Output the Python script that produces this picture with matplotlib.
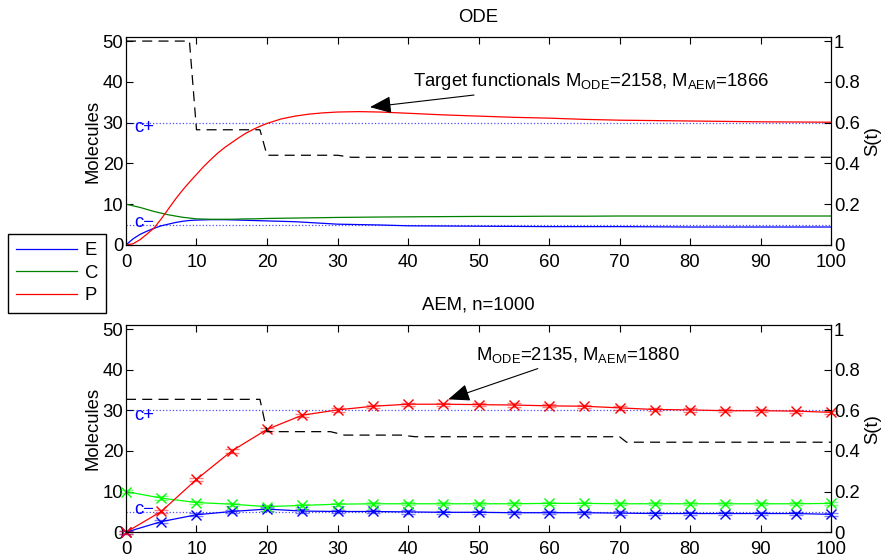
import matplotlib
matplotlib.use("Agg")
import matplotlib.pyplot as plt

plt.rcParams['font.family'] = ['Liberation Sans', 'DejaVu Sans']
plt.rcParams['font.size'] = 13.3
plt.rcParams['mathtext.fontset'] = 'custom'
plt.rcParams['mathtext.rm'] = 'Liberation Sans'

# ODE solution (top panel)
t_ode = [0, 1, 2, 3, 4, 5, 6, 7, 8, 9, 10, 11, 12, 13, 14, 15, 16, 17, 18, 19, 20,
         22, 24, 26, 28, 30, 33, 36, 40, 45, 50, 55, 60, 65, 70, 75, 80, 90, 100]
e_ode = [0, 1.5, 2.6, 3.4, 4.1, 4.7, 5.1, 5.5, 5.8, 6.0, 6.1, 6.15, 6.2, 6.2, 6.2, 6.15, 6.1, 6.05, 6.0, 5.95, 5.9,
         5.8, 5.7, 5.5, 5.3, 5.1, 5.0, 4.9, 4.7, 4.65, 4.6, 4.55, 4.5, 4.5, 4.5, 4.45, 4.4, 4.4, 4.4]
c_ode = [10, 9.6, 9.2, 8.7, 8.2, 7.8, 7.4, 7.1, 6.8, 6.6, 6.4, 6.35, 6.3, 6.3, 6.3, 6.3, 6.35, 6.4, 6.4, 6.45, 6.5,
         6.55, 6.6, 6.65, 6.7, 6.75, 6.8, 6.85, 6.9, 6.95, 7.0, 7.0, 7.05, 7.05, 7.1, 7.1, 7.1, 7.1, 7.1]
p_ode = [0, 0.3, 1.3, 2.7, 4.2, 6.4, 8.8, 11.2, 13.4, 15.4, 17.3, 19.2, 20.9, 22.5, 23.9, 25.1, 26.3, 27.4, 28.3, 29.1, 29.8,
         30.9, 31.6, 32.1, 32.4, 32.6, 32.7, 32.6, 32.3, 31.9, 31.6, 31.3, 31.1, 30.8, 30.6, 30.5, 30.4, 30.2, 30.1]
s_ode_t = [0, 9, 10, 19, 20, 30, 32, 100]
s_ode = [1.0, 1.0, 0.565, 0.565, 0.44, 0.44, 0.43, 0.43]

# AEM, n=1000 (bottom panel)
t_aem = [0, 5, 10, 15, 20, 25, 30, 35, 40, 45, 50, 55, 60, 65, 70, 75, 80, 85, 90, 95, 100]
e_aem = [0, 2.6, 4.3, 5.1, 5.7, 5.2, 5.1, 5.1, 5.0, 4.9, 4.9, 4.8, 4.8, 4.8, 4.7, 4.6, 4.6, 4.6, 4.6, 4.6, 4.4]
c_aem = [10, 8.4, 7.3, 6.9, 6.3, 6.6, 6.9, 7.0, 7.0, 7.0, 7.0, 7.0, 7.1, 7.1, 7.0, 7.0, 7.0, 7.0, 7.0, 7.0, 7.1]
p_aem = [0, 5.1, 13.0, 20.0, 25.3, 28.8, 30.1, 31.0, 31.5, 31.5, 31.4, 31.3, 31.1, 31.0, 30.6, 30.2, 30.1, 29.9, 29.9, 29.8, 29.5]
s_aem_t = [0, 19, 20, 29, 31, 39, 41, 70, 71, 100]
s_aem = [0.654, 0.654, 0.495, 0.495, 0.478, 0.478, 0.47, 0.47, 0.443, 0.443]
aem_err = 0.4

c_plus = 30
c_minus = 5
ymax = 51

fig = plt.figure(figsize=(8.91, 5.58), dpi=100)
ax1 = fig.add_axes([0.1414, 0.561, 0.7913, 0.3727])
ax2 = fig.add_axes([0.1414, 0.0462, 0.7913, 0.3714])


def style(ax, title):
    ax.set_xlim(0, 100)
    ax.set_ylim(0, ymax)
    ax.set_xticks(range(0, 101, 10))
    ax.set_yticks(range(0, 51, 10))
    ax.tick_params(direction='in', length=5, top=True, right=False)
    ax.tick_params(axis='x', pad=6.5)
    ax.tick_params(axis='y', pad=2)
    ax.set_ylabel('Molecules', labelpad=1)
    ax.set_title(title, fontsize=13.3, pad=11)
    ax.axhline(c_plus, color='#0000ff', ls=':', lw=0.9, alpha=0.7)
    ax.axhline(c_minus, color='#0000ff', ls=':', lw=0.9, alpha=0.7)
    ax.text(1.2, c_plus - 1.3, 'c+', color='#0000ff', va='center')
    ax.text(1.2, c_minus + 0.6, 'c\u2212', color='#0000ff', va='center')
    ax_r = ax.twinx()
    ax_r.set_ylim(0, ymax / 50)
    ax_r.set_yticks([0, 0.2, 0.4, 0.6, 0.8, 1])
    ax_r.set_yticklabels(['0', '0.2', '0.4', '0.6', '0.8', '1'])
    ax_r.tick_params(direction='in', length=5, pad=2)
    ax_r.set_ylabel('S(t)', labelpad=3)
    return ax_r


arrow = dict(arrowstyle='-|>,head_length=1.0,head_width=0.4',
             color='k', lw=0.8, shrinkA=2, shrinkB=0)

# top panel
r1 = style(ax1, 'ODE')
ax1.plot(t_ode, e_ode, color='#0000ff', lw=0.9, label='E')
ax1.plot(t_ode, c_ode, color='#008000', lw=0.9, label='C')
ax1.plot(t_ode, p_ode, color='#ff0000', lw=0.9, label='P')
r1.plot(s_ode_t, s_ode, color='k', ls=(0, (8, 5)), lw=0.9)
ax1.annotate('Target functionals $\\mathregular{M_{ODE}}$=2158, $\\mathregular{M_{AEM}}$=1866',
             xy=(34.6, 33.8), xytext=(40.7, 39.0), va='baseline', ha='left',
             arrowprops=arrow)

# bottom panel
r2 = style(ax2, 'AEM, n=1000')
for y, col in [(e_aem, (0, 0, 1)), (c_aem, (0, 1, 0)), (p_aem, (1, 0, 0))]:
    ax2.errorbar(t_aem, y, yerr=aem_err, color=col, lw=0.9, marker='x', ms=7,
                 mew=1.0, capsize=5, capthick=1.6, elinewidth=0.8,
                 ecolor=col + (0.5,), clip_on=False)
r2.plot(s_aem_t, s_aem, color='k', ls=(0, (8, 5)), lw=0.9)
ax2.annotate('$\\mathregular{M_{ODE}}$=2135, $\\mathregular{M_{AEM}}$=1880',
             xy=(45.7, 32.7), xytext=(49.6, 42.4), va='baseline', ha='left',
             arrowprops=arrow)

handles, labels = ax1.get_legend_handles_labels()
leg = fig.legend(handles, labels, loc='upper left', bbox_to_anchor=(0.009, 0.581),
                 borderaxespad=0, fancybox=False, edgecolor='k', framealpha=1,
                 handlelength=3.3, handletextpad=0.4, labelspacing=0.3,
                 borderpad=0.45)
leg.get_frame().set_linewidth(1.0)

fig.savefig('out.png', dpi=100)
